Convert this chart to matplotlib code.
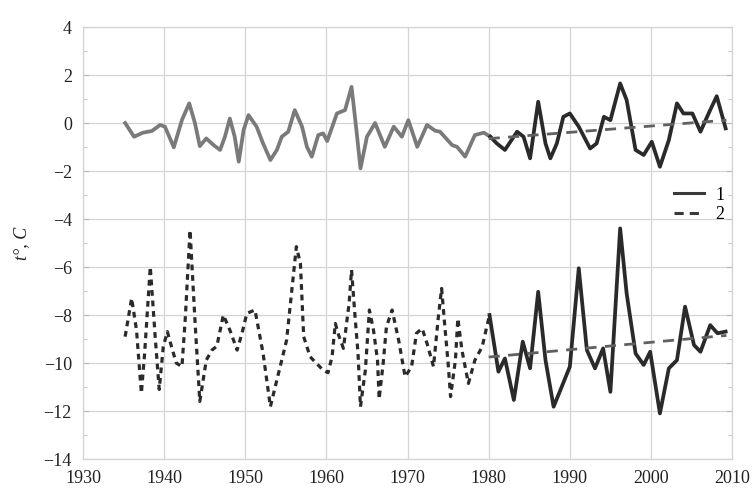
import matplotlib
matplotlib.use("Agg")
import matplotlib.pyplot as plt
from matplotlib.ticker import MultipleLocator

plt.rcParams['font.family'] = ['Liberation Serif', 'DejaVu Serif']
plt.rcParams['axes.unicode_minus'] = True

# Upper series (air temperature anomaly), 1935-1980, grey
top_early_years = [1935.2, 1936.3, 1937.4, 1938.5, 1939.5, 1940.1, 1941.2, 1942.2, 1943.1, 1943.8,
                   1944.4, 1945.2, 1946.1, 1946.9, 1947.5, 1948.1, 1948.7, 1949.2, 1949.8, 1950.4,
                   1951.4, 1952.2, 1953.1, 1953.9, 1954.5, 1955.3, 1956.1, 1957.0, 1957.6, 1958.2,
                   1959.0, 1959.6, 1960.1, 1961.3, 1962.3, 1963.1, 1963.7, 1964.2, 1965.0, 1966.0,
                   1967.2, 1968.3, 1969.3, 1970.1, 1971.2, 1972.4, 1973.4, 1974.0, 1975.5, 1976.1,
                   1977.1, 1978.3, 1979.4, 1980.2]
top_early_vals = [0.0, -0.57, -0.40, -0.33, -0.08, -0.15, -1.01, 0.13, 0.82, 0.0,
                  -0.96, -0.64, -0.92, -1.12, -0.57, 0.19, -0.57, -1.61, -0.29, 0.33,
                  -0.15, -0.85, -1.54, -1.12, -0.57, -0.36, 0.54, -0.15, -0.99, -1.40,
                  -0.50, -0.43, -0.75, 0.40, 0.54, 1.51, -0.29, -1.89, -0.57, 0.0,
                  -0.99, -0.15, -0.57, 0.12, -0.99, -0.08, -0.32, -0.36, -0.92, -0.99,
                  -1.40, -0.50, -0.40, -0.57]

# Upper series 1980-2009, black
top_late_years = [1980.2, 1981.0, 1982.0, 1983.5, 1984.3, 1985.1, 1986.1, 1987.0, 1987.6, 1988.4,
                  1989.2, 1990.0, 1991.1, 1992.5, 1993.3, 1994.2, 1995.0, 1996.2, 1997.0, 1998.1,
                  1999.1, 2000.1, 2001.1, 2002.2, 2003.2, 2004.0, 2005.1, 2006.1, 2007.1, 2008.1,
                  2009.2]
top_late_vals = [-0.57, -0.85, -1.12, -0.36, -0.57, -1.47, 0.89, -0.85, -1.47, -0.85,
                 0.26, 0.40, -0.15, -1.06, -0.85, 0.26, 0.12, 1.65, 0.96, -1.12,
                 -1.33, -0.78, -1.82, -0.71, 0.82, 0.40, 0.40, -0.36, 0.40, 1.12,
                 -0.22]

# Lower series 1935-1980, dashed
low_early_years = [1935.2, 1936.0, 1936.6, 1937.2, 1937.6, 1938.3, 1938.9, 1939.4, 1939.9, 1940.4,
                   1940.9, 1941.5, 1942.2, 1942.6, 1943.2, 1943.8, 1944.4, 1945.2, 1945.9, 1946.5,
                   1947.3, 1948.1, 1949.0, 1949.6, 1950.2, 1951.2, 1952.2, 1953.1, 1953.9, 1954.5,
                   1955.1, 1956.3, 1956.8, 1957.2, 1958.0, 1959.6, 1960.2, 1960.7, 1961.1, 1961.5,
                   1962.1, 1962.8, 1963.1, 1963.5, 1963.9, 1964.2, 1964.8, 1965.3, 1965.8, 1966.3,
                   1966.5, 1967.0, 1967.4, 1968.1, 1968.9, 1969.7, 1970.5, 1971.1, 1971.8, 1972.4,
                   1973.2, 1973.8, 1974.2, 1974.6, 1975.0, 1975.3, 1975.9, 1976.2, 1976.7, 1977.5,
                   1978.3, 1979.2, 1980.1]
low_early_vals = [-8.90, -7.30, -8.62, -11.26, -9.60, -5.99, -8.90, -11.10, -9.32, -8.69,
                  -9.30, -10.00, -10.15, -8.20, -4.46, -8.20, -11.60, -9.88, -9.46, -9.30,
                  -8.00, -8.62, -9.46, -8.76, -7.93, -7.79, -9.60, -11.82, -10.70, -9.88,
                  -9.04, -5.15, -5.85, -8.90, -9.74, -10.30, -10.40, -9.74, -8.35, -8.83,
                  -9.39, -7.51, -6.12, -7.93, -9.60, -11.82, -10.30, -7.79, -8.62, -9.88,
                  -11.50, -10.00, -8.49, -7.79, -9.04, -10.57, -10.15, -8.76, -8.56, -9.18,
                  -10.15, -8.07, -6.89, -8.49, -10.00, -11.40, -9.88, -8.14, -9.46, -10.85,
                  -9.88, -9.32, -8.00]

# Lower series 1980-2009, solid black
low_late_years = [1980.1, 1981.2, 1982.0, 1983.1, 1984.2, 1985.1, 1986.1, 1987.0, 1988.0, 1989.0,
                  1990.0, 1991.1, 1992.1, 1993.1, 1994.1, 1995.0, 1996.2, 1997.0, 1998.1, 1999.1,
                  1999.9, 2001.1, 2002.2, 2003.2, 2004.2, 2005.3, 2006.1, 2007.3, 2008.2, 2009.2]
low_late_vals = [-8.00, -10.36, -9.81, -11.54, -9.11, -10.22, -7.03, -9.88, -11.82, -10.99,
                 -10.15, -6.05, -9.46, -10.22, -9.39, -11.20, -4.39, -7.10, -9.60, -10.08,
                 -9.53, -12.10, -10.22, -9.88, -7.65, -9.25, -9.53, -8.42, -8.76, -8.69]

# Linear trends 1980-2009
trend_years = [1980.0, 2009.3]
top_trend_vals = [-0.65, 0.12]
low_trend_vals = [-9.75, -8.85]

x_ticks = [1930, 1940, 1950, 1960, 1970, 1980, 1990, 2000, 2010]
y_ticks = [-14, -12, -10, -8, -6, -4, -2, 0, 2, 4]
legend_labels = ['1', '2']

fig = plt.figure(figsize=(7.54, 4.92), dpi=100)
ax = fig.add_axes([0.110, 0.067, 0.861, 0.878])

grid_c = '#d4d4d4'
for xv in x_ticks:
    ax.axvline(xv, color=grid_c, lw=0.9, zorder=0)
for yv in y_ticks:
    ax.axhline(yv, color=grid_c, lw=0.9, zorder=0)

gray = '#7a7a7a'
dark = '#2a2a2a'
ax.plot(top_early_years, top_early_vals, color=gray, lw=2.7, solid_joinstyle='round', zorder=3)
ax.plot(top_late_years, top_late_vals, color=dark, lw=2.7, solid_joinstyle='round', zorder=4)
ax.plot(low_early_years, low_early_vals, color=dark, lw=2.3, linestyle=(0, (1.8, 1.5)), zorder=3)
ax.plot(low_late_years, low_late_vals, color=dark, lw=2.7, solid_joinstyle='round', zorder=4)
ax.plot(trend_years, top_trend_vals, color='#606060', lw=2.0, linestyle=(0, (4, 3)), zorder=5)
ax.plot(trend_years, low_trend_vals, color='#606060', lw=2.0, linestyle=(0, (4, 3)), zorder=5)

# legend (line samples + labels)
h1, = ax.plot([], [], color='#3a3a3a', lw=2.2)
h2, = ax.plot([], [], color='#3a3a3a', lw=2.2, linestyle=(0, (3, 2)))
leg = ax.legend([h1, h2], legend_labels, loc='upper left', bbox_to_anchor=(0.885, 0.668),
                frameon=False, handlelength=1.7, handletextpad=0.6, labelspacing=0.15,
                fontsize=13)

ax.set_xlim(1930, 2010)
ax.set_ylim(-14, 4)
ax.set_xticks(x_ticks)
ax.set_yticks(y_ticks)
ax.yaxis.set_minor_locator(MultipleLocator(1))
ax.tick_params(axis='both', which='major', labelsize=13, length=0, colors='#222222', pad=8)
ax.tick_params(axis='y', which='minor', direction='in', length=3, color='#bbbbbb', left=True, right=True)
ax.tick_params(axis='y', which='major', direction='in', length=4, color='#bbbbbb', left=True, right=True)
for s in ax.spines.values():
    s.set_color(grid_c)
    s.set_linewidth(0.9)

ax.set_ylabel('t°, C', fontsize=13, style='italic', labelpad=10, color='#222222')

fig.savefig('out.png', dpi=100)
